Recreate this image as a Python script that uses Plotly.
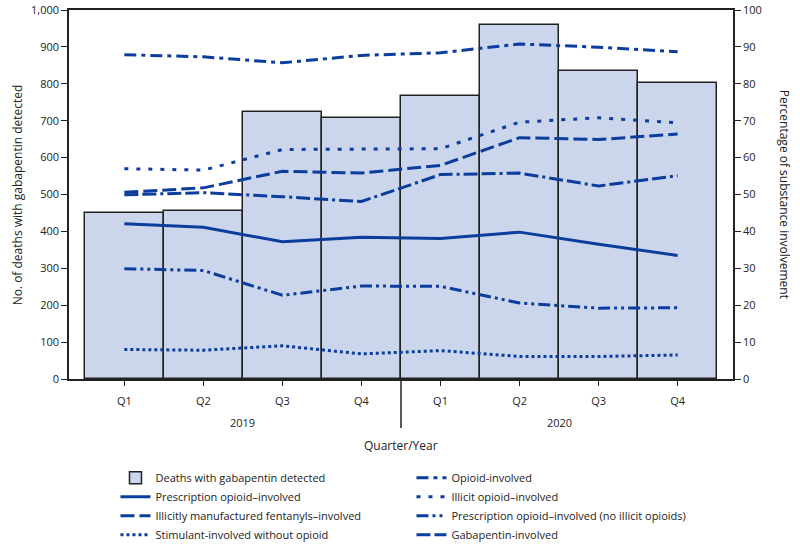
import plotly.graph_objects as go

quarters = ["Q1", "Q2", "Q3", "Q4", "Q1", "Q2", "Q3", "Q4"]
years = ["2019", "2020"]
x_pos = list(range(len(quarters)))

deaths = [450, 455, 723, 706, 766, 959, 836, 801]

opioid = [87.9, 87.3, 85.7, 87.7, 88.4, 90.8, 89.9, 88.7]
illicit_opioid = [57.0, 56.6, 62.2, 62.2, 62.4, 69.6, 70.8, 69.4]
imf = [50.6, 51.8, 56.3, 55.8, 57.9, 65.4, 64.9, 66.4]
gabapentin_inv = [49.9, 50.5, 49.4, 48.1, 55.4, 55.8, 52.3, 55.1]
rx_opioid = [42.1, 41.1, 37.2, 38.4, 38.1, 39.8, 36.5, 33.5]
rx_no_illicit = [29.9, 29.4, 22.7, 25.2, 25.1, 20.6, 19.2, 19.3]
stimulant = [8.0, 7.8, 9.0, 6.8, 7.7, 6.1, 6.1, 6.5]

LINE = "#0b3d9c"
FONT = "Open Sans"
TXT = "#222222"

fig = go.Figure()

fig.add_trace(go.Bar(
    x=x_pos, y=deaths, width=1.0, name="Deaths with gabapentin detected",
    marker=dict(color="#cbd5ec", line=dict(color="#222222", width=1.5)),
    yaxis="y"))

def line(y, name, dash):
    return go.Scatter(x=x_pos, y=y, name=name, mode="lines", yaxis="y2",
                      line=dict(color=LINE, width=3, dash=dash))

# order chosen so that the horizontal legend fills two columns
fig.add_trace(line(opioid, "Opioid-involved", "12px,5px,4px,5px"))
fig.add_trace(line(rx_opioid, "Prescription opioid–involved", "solid"))
fig.add_trace(line(illicit_opioid, "Illicit opioid–involved", "4px,8px"))
fig.add_trace(line(imf, "Illicitly manufactured fentanyls–involved", "14px,5px"))
fig.add_trace(line(rx_no_illicit, "Prescription opioid–involved (no illicit opioids)",
                   "12px,4px,3px,4px,3px,4px"))
fig.add_trace(line(stimulant, "Stimulant-involved without opioid", "3px,3px"))
fig.add_trace(line(gabapentin_inv, "Gabapentin-involved", "14px,4px,14px,4px,3px,4px"))

fig.update_layout(
    width=800, height=551,
    margin=dict(l=69, r=67, t=10, b=172, autoexpand=False),
    plot_bgcolor="white", paper_bgcolor="white",
    font=dict(family=FONT, size=11, color=TXT),
    bargap=0,
    showlegend=True,
    legend=dict(orientation="h", x=0.07, y=-0.228, xanchor="left", yanchor="top",
                entrywidth=251, font=dict(size=11, family=FONT, color=TXT),
                traceorder="normal", bgcolor="rgba(0,0,0,0)"),
    xaxis=dict(range=[-0.7, 7.7], tickmode="array", tickvals=x_pos, ticktext=quarters,
               ticks="outside", ticklen=5, tickcolor="#222", showline=True, mirror=True,
               linecolor="#222", linewidth=1.5, showgrid=False, zeroline=False,
               ticklabelstandoff=6, tickfont=dict(size=11)),
    yaxis=dict(range=[0, 1000], dtick=100, tickformat=",", ticks="outside", ticklen=6,
               tickcolor="#222", showline=True, linecolor="#222", linewidth=1.5,
               showgrid=False, zeroline=False, tickfont=dict(size=11)),
    yaxis2=dict(range=[0, 100], dtick=10, overlaying="y", side="right", ticks="outside",
                ticklen=6, tickcolor="#222", showline=True, linecolor="#222", linewidth=1.5,
                showgrid=False, zeroline=False, tickfont=dict(size=11)),
)

fig.add_shape(type="line", xref="x", yref="paper", x0=3.5, x1=3.5, y0=0, y1=-0.133,
              line=dict(color="#222", width=1.5))

fig.add_annotation(x=1.5, y=-0.119, xref="x", yref="paper", text=years[0],
                   xanchor="center", yanchor="middle", showarrow=False, font=dict(size=11))
fig.add_annotation(x=5.5, y=-0.119, xref="x", yref="paper", text=years[1],
                   xanchor="center", yanchor="middle", showarrow=False, font=dict(size=11))
fig.add_annotation(x=3.5, y=-0.179, xref="x", yref="paper", text="Quarter/Year",
                   xanchor="center", yanchor="middle", showarrow=False, font=dict(size=12))
fig.add_annotation(x=-0.077, y=0.5, xref="paper", yref="paper",
                   text="No. of deaths with gabapentin detected", textangle=-90,
                   xanchor="center", yanchor="middle", showarrow=False, font=dict(size=12))
fig.add_annotation(x=1.078, y=0.5, xref="paper", yref="paper",
                   text="Percentage of substance involvement", textangle=90,
                   xanchor="center", yanchor="middle", showarrow=False, font=dict(size=12))

fig.write_html("out.html", config={"displayModeBar": False},
               post_script="document.body.style.margin='0';")
